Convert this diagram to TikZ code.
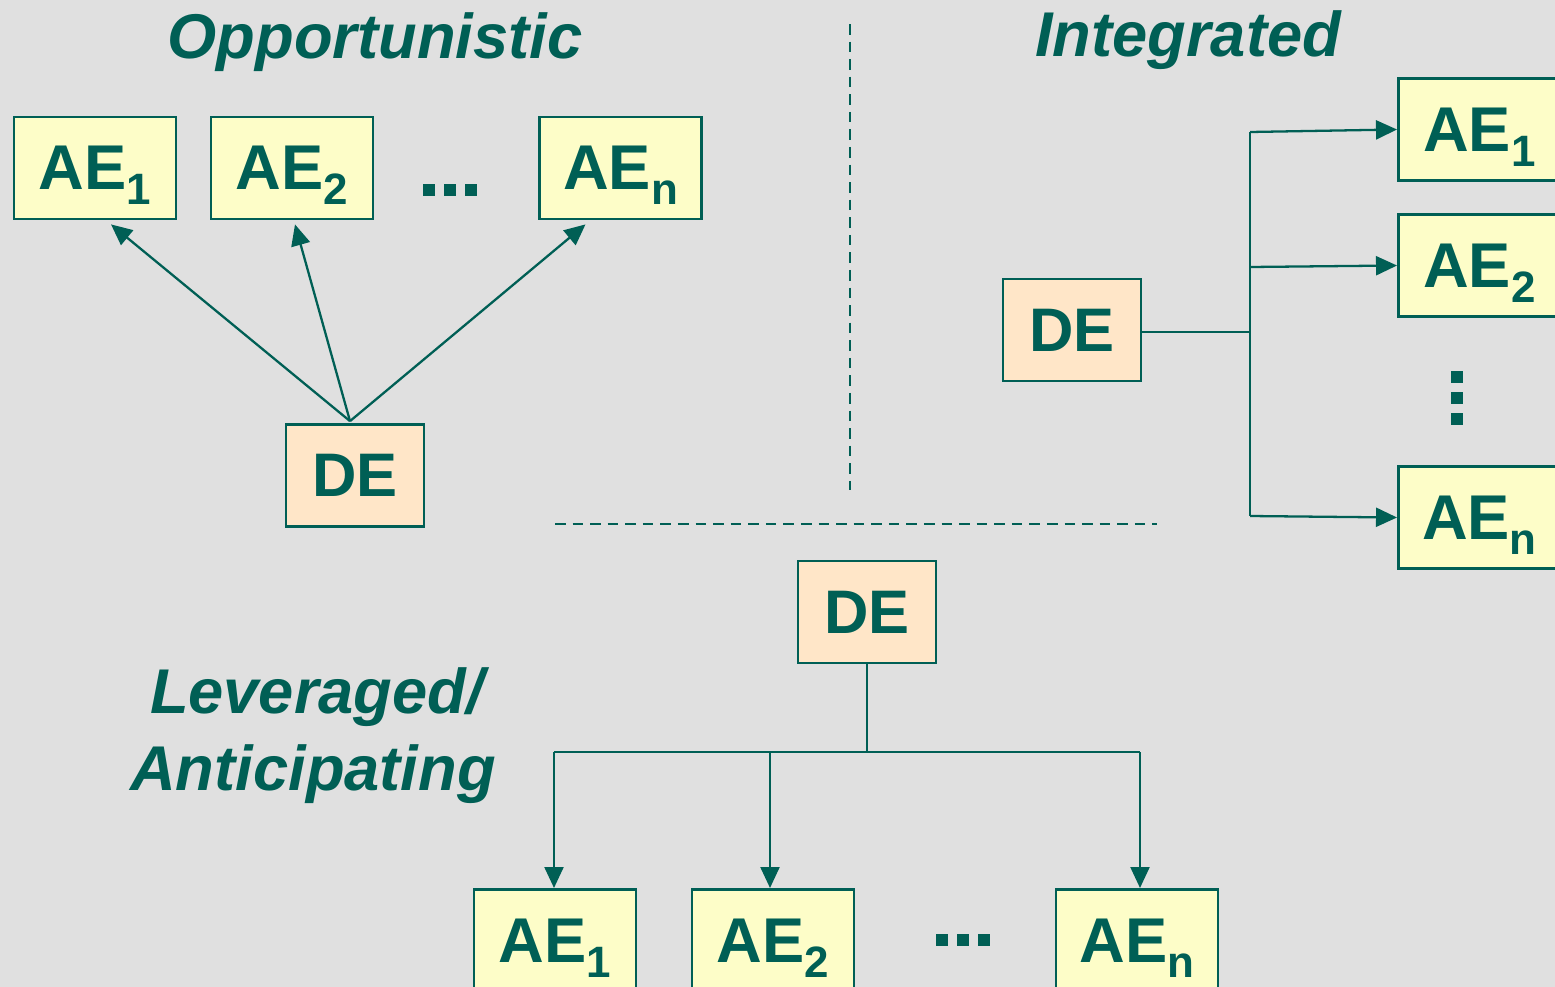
\documentclass[tikz,border=0pt]{standalone}
\usepackage{fontspec}
\setmainfont{Liberation Sans}
\usetikzlibrary{arrows.meta,calc}
\definecolor{teal}{HTML}{005F55}
\definecolor{bgc}{HTML}{E0E0E0}
\definecolor{aefill}{HTML}{FDFDC8}
\definecolor{defill}{HTML}{FFE6C8}
\newcommand\AEsub[1]{AE\raisebox{-8.5pt}{\fontsize{25}{25}\selectfont #1}}
\newcommand\sqdots{\rule{6.8pt}{6.8pt}\hspace{5.4pt}\rule{6.8pt}{6.8pt}\hspace{5.4pt}\rule{6.8pt}{6.8pt}}
\tikzset{
  aebox/.style={draw=teal, line width=1.6pt, fill=aefill, minimum width=3.24cm, minimum height=2.04cm, inner sep=0pt, text height=25pt, text depth=0pt, text=teal, font=\fontsize{36}{36}\selectfont\bfseries},
  debox/.style={draw=teal, line width=1.6pt, fill=defill, minimum width=2.76cm, minimum height=2.04cm, inner sep=0pt, text height=24.4pt, text depth=0pt, text=teal, font=\fontsize{35}{35}\selectfont\bfseries},
  ttl/.style={text=teal, font=\fontsize{36}{36}\selectfont\bfseries\itshape, anchor=base, inner sep=0pt},
  dots/.style={text=teal, inner sep=0pt},
  conn/.style={draw=teal, line width=1.3pt},
  arr/.style={conn, -{Triangle[length=0.42cm,width=0.38cm]}},
  sep/.style={draw=teal, line width=1.2pt, dash pattern=on 6pt off 4pt}
}
\begin{document}
\begin{tikzpicture}[x=0.02cm,y=-0.02cm]
\fill[bgc] (0,0) rectangle (1555,987);
\useasboundingbox (0,0) rectangle (1555,987);
\clip (0,0) rectangle (1555,987);
% separators
\draw[sep] (850,24) -- (850,490);
\draw[sep] (555,524) -- (1157,524);
% titles
\node[ttl] (t1) at (375,58) {Opportunistic};
\node[ttl] (t2) at (1188,56) {Integrated};
\node[ttl] (t3) at (317,713) {Leveraged/};
\node[ttl] (t4) at (313,790) {Anticipating};
% ---------- top left
\node[aebox] (a1) at (95,168) {\AEsub{1}};
\node[aebox] (a2) at (292,168) {\AEsub{2}};
\node[aebox] (an) at (620.5,168) {\AEsub{n}};
\node[dots] (d1) at (450,190) {\sqdots};
\node[debox] (de1) at (355,475.5) {DE};
\coordinate (o1) at ($(de1.north)+(-5,-2)$);
\coordinate (e1) at ($(a1.south)+(16,4)$);
\coordinate (e2) at ($(a2.south)+(3,4)$);
\coordinate (e3) at ($(an.south)+(-35,4)$);
\draw[arr] (o1) -- (e1);
\draw[arr] (o1) -- (e2);
\draw[arr] (o1) -- (e3);
% ---------- top right
\node[debox] (de2) at (1072,330) {DE};
\node[aebox, anchor=west] (b1) at (1397,129.5) {\AEsub{1}};
\node[aebox, anchor=west] (b2) at (1397,265.5) {\AEsub{2}};
\node[aebox, anchor=west] (bn) at (1397,517.5) {\AEsub{n}};
\node[dots, rotate=90] (d2) at (1457,398) {\sqdots};
\coordinate (j0) at (1250,332);
\coordinate (j1) at (1250,132);
\coordinate (j2) at (1250,267);
\coordinate (j3) at (1250,516);
\draw[conn] (de2.east |- j0) -- (j0);
\draw[conn] (j1) -- (j3);
\draw[arr] (j1) -- (b1.west);
\draw[arr] (j2) -- (b2.west);
\draw[arr] (j3) -- (bn.west);
% ---------- bottom
\node[debox] (de3) at (867,612) {DE};
\node[aebox, anchor=north] (c1) at (555,888) {\AEsub{1}};
\node[aebox, anchor=north] (c2) at (773,888) {\AEsub{2}};
\node[aebox, anchor=north] (cn) at (1137,888) {\AEsub{n}};
\node[dots] (d3) at (963,940) {\sqdots};
\coordinate (k0) at (867,752);
\coordinate (k1) at (554,752);
\coordinate (k2) at (770,752);
\coordinate (k3) at (1140,752);
\draw[conn] (de3.south) -- (k0);
\draw[conn] (k1) -- (k3);
\draw[arr] (k1) -- (k1 |- c1.north);
\draw[arr] (k2) -- (k2 |- c2.north);
\draw[arr] (k3) -- (k3 |- cn.north);
\end{tikzpicture}
\end{document}
